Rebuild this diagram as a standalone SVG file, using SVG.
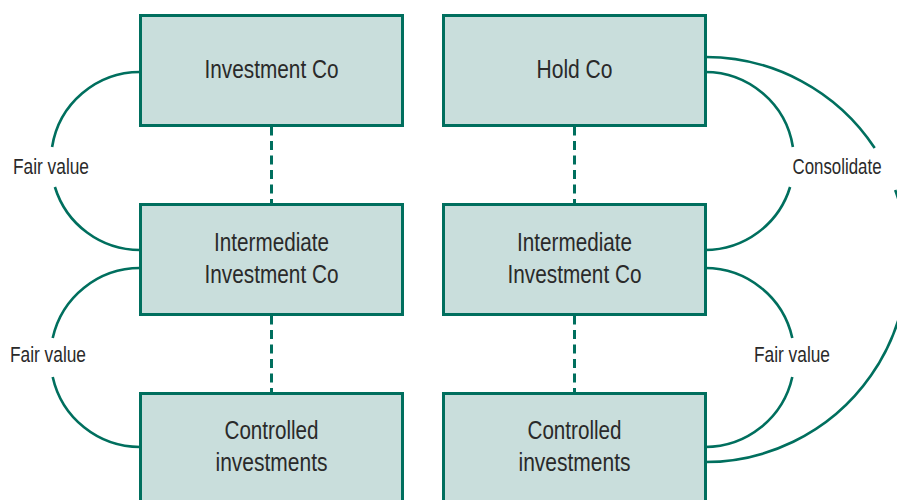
<svg xmlns="http://www.w3.org/2000/svg" width="897" height="500" viewBox="0 0 897 500">
<style>
.box{fill:#c9dedc;stroke:#006f5e;stroke-width:3}
.conn{fill:none;stroke:#006f5e;stroke-width:2.6}
.dash{fill:none;stroke:#006f5e;stroke-width:3;stroke-dasharray:9 5.5}
.t{font-family:"Liberation Sans",Arial,sans-serif;font-size:25px;fill:#2a2a2a;text-anchor:middle}
.s{font-family:"Liberation Sans",Arial,sans-serif;font-size:22px;fill:#2a2a2a;text-anchor:middle}
</style>
<rect width="897" height="500" fill="#ffffff"/>
<g id="connectors">
<path class="dash" d="M271.5,126.5 V203"/>
<path class="dash" d="M271.5,315.5 V392"/>
<path class="dash" d="M574.5,126.5 V203"/>
<path class="dash" d="M574.5,315.5 V392"/>
<path class="conn" d="M140,72 A89,89 0 0 0 52.1,147 M54.9,187 A89,89 0 0 0 140,250"/>
<path class="conn" d="M140,268 A89.5,89.5 0 0 0 52.7,338 M52.7,377 A89.5,89.5 0 0 0 140,447"/>
<path class="conn" d="M705,72 A89,89 0 0 1 792.9,147 M790.1,187 A89,89 0 0 1 705,250"/>
<path class="conn" d="M705,268 A89.5,89.5 0 0 1 792.3,338 M792.3,377 A89.5,89.5 0 0 1 705,447"/>
<path class="conn" d="M705,57 A202.5,202.5 0 0 1 874.7,148 M895.2,190 A202.5,202.5 0 0 1 705,462"/>
<text class="s" x="51" y="174" textLength="76" lengthAdjust="spacingAndGlyphs">Fair value</text>
<text class="s" x="48" y="362" textLength="76" lengthAdjust="spacingAndGlyphs">Fair value</text>
<text class="s" x="837" y="174" textLength="89" lengthAdjust="spacingAndGlyphs">Consolidate</text>
<text class="s" x="792" y="362" textLength="76" lengthAdjust="spacingAndGlyphs">Fair value</text>
</g>
<g id="investment-co">
<rect class="box" x="140.5" y="15.5" width="262" height="110"/>
<text class="t" x="271.5" y="77.5" textLength="134" lengthAdjust="spacingAndGlyphs">Investment Co</text>
</g>
<g id="intermediate-left">
<rect class="box" x="140.5" y="204.5" width="262" height="110"/>
<text class="t" x="271.5" y="251" textLength="115" lengthAdjust="spacingAndGlyphs">Intermediate</text>
<text class="t" x="271.5" y="282.5" textLength="134" lengthAdjust="spacingAndGlyphs">Investment Co</text>
</g>
<g id="controlled-left">
<rect class="box" x="140.5" y="393.5" width="262" height="120"/>
<text class="t" x="271.5" y="439" textLength="94" lengthAdjust="spacingAndGlyphs">Controlled</text>
<text class="t" x="271.5" y="471" textLength="112" lengthAdjust="spacingAndGlyphs">investments</text>
</g>
<g id="hold-co">
<rect class="box" x="443.5" y="15.5" width="262" height="110"/>
<text class="t" x="574.5" y="77.5" textLength="76" lengthAdjust="spacingAndGlyphs">Hold Co</text>
</g>
<g id="intermediate-right">
<rect class="box" x="443.5" y="204.5" width="262" height="110"/>
<text class="t" x="574.5" y="251" textLength="115" lengthAdjust="spacingAndGlyphs">Intermediate</text>
<text class="t" x="574.5" y="282.5" textLength="134" lengthAdjust="spacingAndGlyphs">Investment Co</text>
</g>
<g id="controlled-right">
<rect class="box" x="443.5" y="393.5" width="262" height="120"/>
<text class="t" x="574.5" y="439" textLength="94" lengthAdjust="spacingAndGlyphs">Controlled</text>
<text class="t" x="574.5" y="471" textLength="112" lengthAdjust="spacingAndGlyphs">investments</text>
</g>
</svg>
